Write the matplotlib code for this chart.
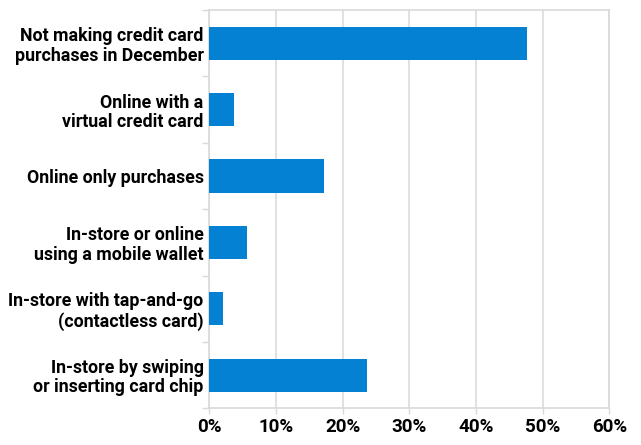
import matplotlib
matplotlib.use("Agg")
import matplotlib.pyplot as plt
import numpy as np

categories = [
    "Not making credit card\npurchases in December",
    "Online with a\nvirtual credit card",
    "Online only purchases",
    "In-store or online\nusing a mobile wallet",
    "In-store with tap-and-go\n(contactless card)",
    "In-store by swiping\nor inserting card chip",
]
values = [47.7, 3.7, 17.2, 5.7, 2.1, 23.6]
xticks = [0, 10, 20, 30, 40, 50, 60]
xticklabels = ["0%", "10%", "20%", "30%", "40%", "50%", "60%"]

fig = plt.figure(figsize=(6.41, 4.45), dpi=100)
ax = fig.add_axes([0.3265, 0.0825, 0.624, 0.895])

y = np.arange(len(categories))
ax.barh(y, values, height=0.5, color="#0481D2", zorder=3)
ax.set_ylim(len(categories) - 0.5, -0.5)
ax.set_xlim(0, 60)
ax.set_xticks(xticks)
ax.set_xticklabels(xticklabels)
ax.set_yticks(y)
ax.set_yticklabels(categories, linespacing=1.1)
ax.set_yticks(np.arange(len(categories) + 1) - 0.5, minor=True)
ax.tick_params(axis="y", which="major", length=0, pad=4)
ax.tick_params(axis="y", which="minor", length=5, color="#d9d9d9", width=1)
ax.tick_params(axis="x", length=4, color="#d9d9d9", width=1, pad=3)
ax.grid(axis="x", color="#dcdcdc", linewidth=1.2, zorder=0)
for s in ax.spines.values():
    s.set_color("#d9d9d9")
    s.set_linewidth(1.2)

for lab in ax.get_yticklabels():
    lab.set_fontfamily("Roboto")
    lab.set_fontweight("bold")
    lab.set_fontsize(12.8)
for lab in ax.get_xticklabels():
    lab.set_fontfamily("Roboto")
    lab.set_fontweight("bold")
    lab.set_fontsize(13.5)

fig.savefig("out.png", dpi=100)
